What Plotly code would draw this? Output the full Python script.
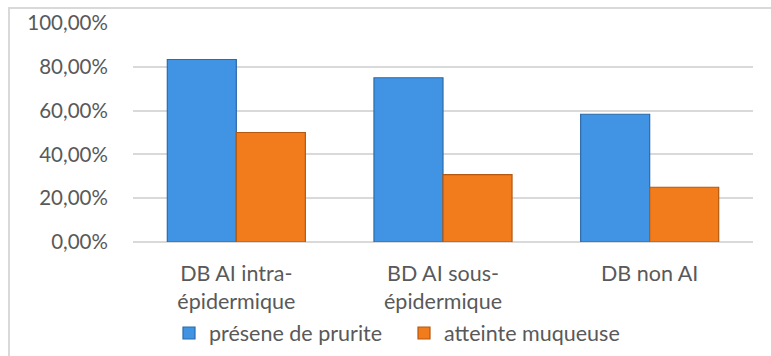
import plotly.graph_objects as go

# Groupes de dermatoses bulleuses et proportions observées
categories = ["DB AI intra-<br>épidermique", "BD AI sous-<br>épidermique", "DB non AI"]
prurit = [0.8333, 0.75, 0.5833]
muqueuse = [0.50, 0.3077, 0.25]
series_names = ["présene de prurite", "atteinte muqueuse"]
y_ticks = [0, 0.2, 0.4, 0.6, 0.8, 1.0]

FONT = "Lato"
TXT = "#595959"
GRID = "#d9d9d9"

fig = go.Figure()
fig.add_trace(go.Bar(
    x=categories, y=prurit, name=series_names[0],
    marker=dict(color="#4194e3", line=dict(color="#2c6aa8", width=1.2)),
))
fig.add_trace(go.Bar(
    x=categories, y=muqueuse, name=series_names[1],
    marker=dict(color="#f27b1c", line=dict(color="#b4580f", width=1.2)),
))

fig.update_layout(
    width=771, height=356,
    margin=dict(l=133, r=18, t=23, b=114, autoexpand=False),
    paper_bgcolor="white", plot_bgcolor="white",
    separators=", ",
    barmode="group", bargap=0.332, bargroupgap=0,
    font=dict(family=FONT, size=21, color=TXT),
    showlegend=True,
    legend=dict(
        orientation="h", xref="container", yref="container",
        x=169 / 771, xanchor="left", y=1 - 333 / 356, yanchor="middle",
        font=dict(family=FONT, size=21.5, color=TXT),
        bgcolor="rgba(0,0,0,0)", entrywidth=190, entrywidthmode="pixels",
        itemwidth=30,
    ),
    xaxis=dict(
        showgrid=False, showline=False, zeroline=False,
        ticks="outside", ticklen=12, tickcolor="rgba(0,0,0,0)",
        tickfont=dict(family=FONT, size=21.5, color=TXT),
    ),
    yaxis=dict(
        range=[0, 1], tickvals=y_ticks, tickformat=".2%",
        showgrid=True, gridcolor=GRID, gridwidth=1.5,
        zeroline=True, zerolinecolor=GRID, zerolinewidth=1.5,
        showline=False,
        ticks="outside", ticklen=20, tickcolor="rgba(0,0,0,0)",
        tickfont=dict(family=FONT, size=20.5, color=TXT),
    ),
    shapes=[dict(
        type="rect", xref="paper", yref="paper",
        x0=-0.2, x1=1.2, y0=-0.8, y1=1.068,
        line=dict(color=GRID, width=2), fillcolor="rgba(0,0,0,0)", layer="below",
    )],
)

fig.write_html("out.html")
